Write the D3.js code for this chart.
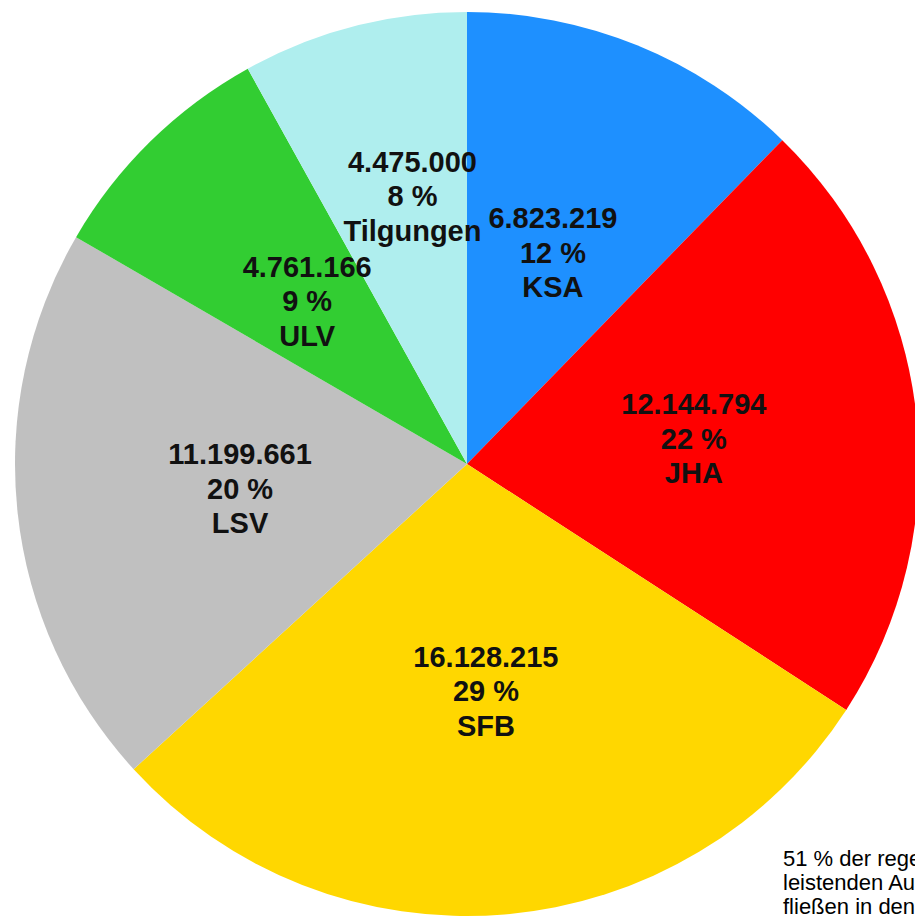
<!DOCTYPE html>
<html>
<head>
<meta charset="utf-8">
<script src="https://cdn.jsdelivr.net/npm/d3@7"></script>
<style>
  html, body { margin: 0; padding: 0; background: #fff; overflow: hidden; }
  svg { display: block; }
</style>
</head>
<body>
<div id="chart" style="width:915px;height:918px"></div>
<script>
// budget shares, clockwise from 12 o'clock
const categories = ["KSA", "JHA", "SFB", "LSV", "ULV", "Tilgungen"];
const amounts = [6823219, 12144794, 16128215, 11199661, 4761166, 4475000];
const sliceColors = ["#1e90ff", "#ff0000", "#ffd700", "#c0c0c0", "#32cd32", "#afeeee"];
const noteLines = ["51 % der regelmäßig zu", "leistenden Ausgaben", "fließen in den Sozialbereich"];

let container = document.getElementById("chart");
let viewWidth = container.clientWidth;
let viewHeight = container.clientHeight;
let svg = d3.select(container).append("svg")
  .attr("width", viewWidth)
  .attr("height", viewHeight);

// layout
let cx = 467, cy = 464, radius = 452;
let fontSize = 29;
let lineGap = 34.5;
// label distance from centre (fraction of radius) and angle shift in degrees
let labelTweak = { Tilgungen: { r: 0.605, da: 3 } };
let labelPos = d => {
  let t = labelTweak[d.data.name] || { r: 0.505, da: 0 };
  let a = (d.startAngle + d.endAngle) / 2 + t.da * Math.PI / 180;
  return [Math.sin(a) * t.r * radius, -Math.cos(a) * t.r * radius];
};

let de = d3.formatLocale({ decimal: ",", thousands: ".", grouping: [3], currency: ["", " €"] });
let fmt = de.format(",d");
let total = d3.sum(amounts);

let data = categories.map((c, i) => ({ name: c, value: amounts[i], color: sliceColors[i] }));
let pie = d3.pie().sort(null).value(d => d.value);
let arcs = pie(data);
let arc = d3.arc().innerRadius(0).outerRadius(radius);

let g = svg.append("g").attr("transform", "translate(" + cx + "," + cy + ")");

g.selectAll(".slice")
  .data(arcs).enter().append("path")
  .attr("class", "slice")
  .attr("d", arc)
  .attr("fill", d => d.data.color);

// three-line labels: amount, percent, name
let labels = g.selectAll(".label")
  .data(arcs).enter().append("text")
  .attr("class", "label")
  .attr("transform", d => "translate(" + labelPos(d) + ")")
  .attr("text-anchor", "middle")
  .attr("font-family", "'Liberation Sans', Arial, sans-serif")
  .attr("font-weight", "bold")
  .attr("font-size", fontSize)
  .attr("fill", "#111");

labels.each(function(d) {
  let t = d3.select(this);
  let lines = [fmt(d.data.value), Math.round(100 * d.data.value / total) + " %", d.data.name];
  lines.forEach((s, i) => {
    t.append("tspan")
      .attr("x", 0)
      .attr("y", (i - 1) * lineGap + 10)
      .text(s);
  });
});

// note text at bottom right (runs off the edge like in the source slide)
let note = svg.append("text")
  .attr("font-family", "'Liberation Sans', Arial, sans-serif")
  .attr("font-size", 22)
  .attr("fill", "#000");
noteLines.forEach((s, i) => {
  note.append("tspan")
    .attr("x", 783)
    .attr("y", 866 + i * 24)
    .text(s);
});
</script>
</body>
</html>
